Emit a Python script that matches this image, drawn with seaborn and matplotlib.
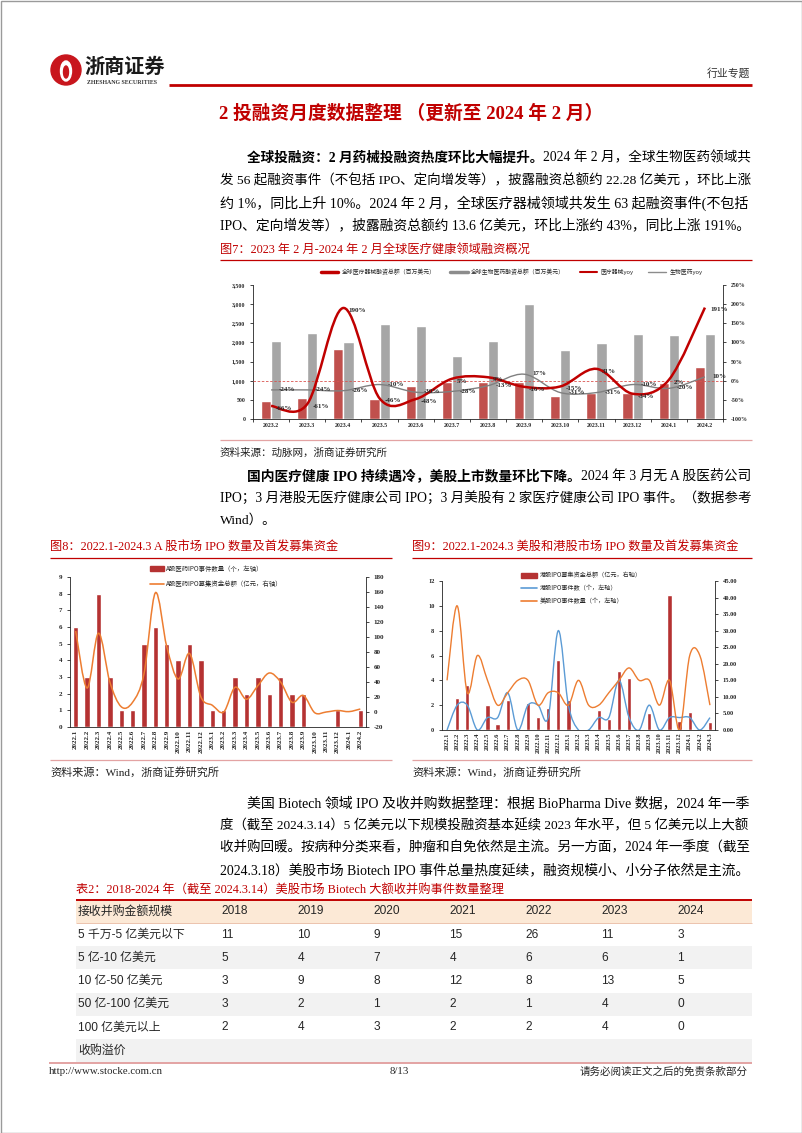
import numpy as np
import pandas as pd
import matplotlib
matplotlib.use("Agg")
import matplotlib.pyplot as plt
import seaborn as sns
from matplotlib.path import Path
from matplotlib.patches import PathPatch, Rectangle, Circle, Ellipse, Patch
from matplotlib.lines import Line2D

# ---- figure 7 data: global healthcare financing ----
months_7 = ["2023.2", "2023.3", "2023.4", "2023.5", "2023.6", "2023.7", "2023.8",
            "2023.9", "2023.10", "2023.11", "2023.12", "2024.1", "2024.2"]
device_amount = [470, 549, 1838, 523, 871, 976, 958, 976, 610, 680, 671, 951, 1360]
pharma_amount = [2030, 2256, 2021, 2474, 2439, 1646, 2047, 3014, 1812, 1986, 2213, 2206, 2228]
device_yoy = [-66, -61, 190, -46, -48, 5, 9, -16, -15, 31, -34, 2, 191]
pharma_yoy = [-24, -24, -26, -10, -30, -28, -13, 17, -31, -31, -10, -20, 10]

# ---- figure 8 data: A-share IPO ----
months_8 = ["2022.1", "2022.2", "2022.3", "2022.4", "2022.5", "2022.6", "2022.7", "2022.8",
            "2022.9", "2022.10", "2022.11", "2022.12", "2023.1", "2023.2", "2023.3", "2023.4",
            "2023.5", "2023.6", "2023.7", "2023.8", "2023.9", "2023.10", "2023.11", "2023.12",
            "2024.1", "2024.2"]
a_ipo_count = [6, 3, 8, 3, 1, 1, 5, 6, 5, 4, 5, 4, 1, 1, 3, 2, 3, 2, 3, 2, 2, 0, 0, 1, 0, 1]
a_ipo_funds = [108, 32, 105, 40, 7, 13, 51, 159, 87, 44, 78, 20, 9, 0, 33, 17, 35, 52, 40, 13,
               22, -1, 0, 2, 0.5, 4]

# ---- figure 9 data: US / HK IPO ----
months_9 = ["2022.1", "2022.2", "2022.3", "2022.4", "2022.5", "2022.6", "2022.7", "2022.8",
            "2022.9", "2022.10", "2022.11", "2022.12", "2023.1", "2023.2", "2023.3", "2023.4",
            "2023.5", "2023.6", "2023.7", "2023.8", "2023.9", "2023.10", "2023.11", "2023.12",
            "2024.1", "2024.2", "2024.3"]
hk_funds = [0, 9.6, 13.6, 0, 7.7, 1.8, 9.0, 0, 8.2, 4.0, 6.6, 21.1, 9.0, 0, 0, 6.0, 3.3, 17.9,
            15.7, 0, 5.2, 0, 40.8, 2.8, 5.5, 0, 2.3]
hk_count = [0, 2, 2, 0, 1, 1, 3, 0, 2, 2, 1, 8, 2, 0, 0, 1, 1, 4, 1, 0, 2, 0, 1, 1, 1, 0, 1]
us_count = [4, 10, 3, 6, 4, 2, 3, 4, 4, 2, 3, 3, 2, 4, 2, 2, 3, 4, 5, 4, 4, 2, 4, 0, 6, 6, 2]

# ---- table 2 data ----
tbl_header = "接收并购金额规模"
tbl_years = ["2018", "2019", "2020", "2021", "2022", "2023", "2024"]
tbl_rows = ["5 千万-5 亿美元以下", "5 亿-10 亿美元", "10 亿-50 亿美元", "50 亿-100 亿美元",
            "100 亿美元以上", "收购溢价"]
row_50m_500m = [11, 10, 9, 15, 26, 11, 3]
row_500m_1b = [5, 4, 7, 4, 6, 6, 1]
row_1b_5b = [3, 9, 8, 12, 8, 13, 5]
row_5b_10b = [3, 2, 1, 2, 1, 4, 0]
row_10b_up = [2, 4, 3, 2, 2, 4, 0]
row_premium = []

# ---- body text ----
para1 = [
    [("全球投融资：2 月药械投融资热度环比大幅提升。", True), ("2024 年 2 月，全球生物医药领域共", False)],
    [("发 56 起融资事件（不包括 IPO、定向增发等），披露融资总额约 22.28 亿美元 ，环比上涨", False)],
    [("约 1%，同比上升 10%。2024 年 2 月，全球医疗器械领域共发生 63 起融资事件(不包括", False)],
    [("IPO、定向增发等），披露融资总额约 13.6 亿美元，环比上涨约 43%，同比上涨 191%。", False)],
]
para2 = [
    [("国内医疗健康 IPO 持续遇冷，美股上市数量环比下降。", True), ("2024 年 3 月无 A 股医药公司", False)],
    [("IPO；3 月港股无医疗健康公司 IPO；3 月美股有 2 家医疗健康公司 IPO 事件。（数据参考", False)],
    [("Wind）。", False)],
]
para3 = [
    [("美国 Biotech 领域 IPO 及收并购数据整理：根据 BioPharma Dive 数据，2024 年一季", False)],
    [("度（截至 2024.3.14）5 亿美元以下规模投融资基本延续 2023 年水平，但 5 亿美元以上大额", False)],
    [("收并购回暖。按病种分类来看，肿瘤和自免依然是主流。另一方面，2024 年一季度（截至", False)],
    [("2024.3.18）美股市场 Biotech IPO 事件总量热度延续，融资规模小、小分子依然是主流。", False)],
]

RED = "#C00000"
BAR_RED = "#C0504D"
BAR_RED2 = "#B53232"
GRAY_BAR = "#A6A6A6"
ORANGE = "#ED7D31"
BLUE = "#5B9BD5"
PINK = "#E3A3A3"

sns.set_theme(style="ticks", rc={"axes.linewidth": 0.6, "xtick.major.width": 0.6,
                                 "ytick.major.width": 0.6, "xtick.major.size": 2,
                                 "ytick.major.size": 2, "axes.edgecolor": "#222222"})
BODY = ["Liberation Serif", "Noto Sans CJK SC", "DejaVu Sans"]
CJK = ["Noto Sans CJK SC", "DejaVu Sans"]
plt.rcParams["font.family"] = BODY
plt.rcParams["axes.unicode_minus"] = False

W, H = 802, 1133
fig = plt.figure(figsize=(W / 100, H / 100), dpi=100)
page = fig.add_axes([0, 0, 1, 1])
page.set_xlim(0, W)
page.set_ylim(H, 0)
page.axis("off")
renderer = fig.canvas.get_renderer()


def hline(x0, x1, y, color, lw=1.0):
    page.plot([x0, x1], [y, y], color=color, lw=lw, solid_capstyle="butt")


def put_line(x, y, parts, size, right=None, color="black", fam=BODY):
    def draw(sz):
        texts, cx = [], x
        for s, b in parts:
            t = page.text(cx, y, s, fontsize=sz, fontweight="bold" if b else "normal",
                          family=fam, color=color, va="center", ha="left")
            cx += t.get_window_extent(renderer).width
            texts.append(t)
        return texts, cx
    texts, end = draw(size)
    if right is not None:
        k = (right - x) / (end - x)
        if 0.88 < k < 1.12:
            for t in texts:
                t.remove()
            draw(size * k)


def smooth(ax, xs, ys, color, lw):
    pts = np.column_stack([xs, ys]).astype(float)
    verts, codes = [pts[0]], [Path.MOVETO]
    n = len(pts)
    for i in range(n - 1):
        p0 = pts[i - 1] if i > 0 else pts[i]
        p1, p2 = pts[i], pts[i + 1]
        p3 = pts[i + 2] if i + 2 < n else pts[i + 1]
        verts += [p1 + (p2 - p0) / 6, p2 - (p3 - p1) / 6, p2]
        codes += [Path.CURVE4] * 3
    ax.add_patch(PathPatch(Path(verts, codes), fc="none", ec=color, lw=lw, zorder=4))


def tick_font(ax, size):
    for lab in ax.get_xticklabels() + ax.get_yticklabels():
        lab.set_fontsize(size)
        lab.set_fontweight("bold")
        lab.set_fontfamily("Liberation Serif")


# ---- page frame, header ----
page.add_patch(Rectangle((0.5, 0.5), W - 1, H - 1, fill=False, ec="#9a9a9a", lw=1))
page.add_patch(Circle((66, 70), 15, color="#C8161D"))
page.add_patch(Ellipse((66, 71), 11, 20, color="white"))
page.add_patch(Ellipse((66, 72), 5, 12, color="#C8161D"))
page.text(84, 66, "浙商证券", fontsize=14.5, fontweight="bold", family=CJK, color="#1a1a1a",
          va="center", ha="left")
page.text(87, 83, "ZHESHANG SECURITIES", fontsize=4.2, fontweight="bold",
          family="Liberation Serif", color="#333333", va="center", ha="left")
hline(169, 752, 85, RED, 2)
page.text(750, 73, "行业专题", fontsize=7.8, family=CJK, color="#333333", va="center", ha="right")
page.text(411, 114, "2 投融资月度数据整理 （更新至 2024 年 2 月）", fontsize=13.5,
          fontweight="bold", color=RED, va="center", ha="center")

# ---- paragraphs ----
for i, parts in enumerate(para1):
    put_line(247 if i == 0 else 220, 158 + 22.5 * i, parts, 9.7, right=752)
page.text(220, 250, "图7：2023 年 2 月-2024 年 2 月全球医疗健康领域融资概况", fontsize=8.8,
          color=RED, va="center", ha="left")
hline(220, 752, 260, RED, 0.9)

# ---- figure 7 ----
ax1 = fig.add_axes([253 / W, 1 - 419 / H, 470 / W, 134 / H])
df1 = pd.DataFrame({"month": months_7 * 2, "amount": device_amount + pharma_amount,
                    "series": ["device"] * len(months_7) + ["pharma"] * len(months_7)})
sns.barplot(data=df1, x="month", y="amount", hue="series", palette=[BAR_RED, GRAY_BAR],
            saturation=1, width=0.56, gap=0, errorbar=None, legend=False, ax=ax1)
ax1b = ax1.twinx()
ax1.set_xlim(-0.5, len(months_7) - 0.5)
ax1.set_ylim(0, 3500)
ax1.set_yticks(range(0, 3501, 500))
ax1.set_yticklabels([f"{v:,}" for v in range(0, 3501, 500)])
ax1.set_xlabel("")
ax1.set_ylabel("")
ax1.axhline(1000, color="#D9534F", lw=0.6, ls=(0, (3, 2)), zorder=3)
ax1.spines[["top", "right"]].set_visible(False)
ax1.tick_params(axis="x", length=0, pad=3)
ax1.set_xticks(np.arange(-0.5, len(months_7), 1), minor=True)
ax1.tick_params(axis="x", which="minor", length=2, width=0.6)

ax1b.set_ylim(-100, 250)
ax1b.set_yticks(range(-100, 251, 50))
ax1b.set_yticklabels([f"{v}%" for v in range(-100, 251, 50)])
ax1b.spines[["top", "left", "bottom"]].set_visible(False)
xs7 = np.arange(len(months_7))
smooth(ax1b, xs7, pharma_yoy, "#808080", 1.0)
smooth(ax1b, xs7, device_yoy, RED, 1.8)
for i, v in enumerate(device_yoy):
    ax1b.text(i + 0.14, v - 6, f"{v}%", fontsize=5, fontweight="bold", va="center",
              ha="left", clip_on=False, zorder=5)
for i, v in enumerate(pharma_yoy):
    ax1b.text(i + 0.22, v + 1, f"{v}%", fontsize=5, fontweight="bold", va="center",
              ha="left", clip_on=False, zorder=5)
tick_font(ax1, 4.2)
tick_font(ax1b, 4.2)
h7 = [Line2D([], [], color=RED, lw=2.5), Line2D([], [], color="#8c8c8c", lw=2.5),
      Line2D([], [], color=RED, lw=1.5), Line2D([], [], color="#8c8c8c", lw=1.0)]
l7 = ["全球医疗器械融资总额（百万美元）", "全球生物医药融资总额（百万美元）", "医疗器械yoy", "生物医药yoy"]
ax1b.legend(h7, l7, loc="center", bbox_to_anchor=(0.55, 1.095), ncol=4, frameon=False,
            prop={"family": CJK, "size": 4.2}, handlelength=3, columnspacing=2.5,
            handletextpad=0.6)

hline(220, 752, 440, PINK, 0.9)
page.text(220, 453, "资料来源：动脉网，浙商证券研究所", fontsize=7.6, family=CJK, color="#222222",
          va="center", ha="left")

for i, parts in enumerate(para2):
    put_line(247 if i == 0 else 220, 476 + 22 * i, parts, 9.7,
             right=752 if i < len(para2) - 1 else None)

# ---- figure 8 ----
page.text(50, 548, "图8：2022.1-2024.3 A 股市场 IPO 数量及首发募集资金", fontsize=8.8,
          color=RED, va="center", ha="left")
hline(50, 392, 558, RED, 0.9)
ax2 = fig.add_axes([70 / W, 1 - 727 / H, 296 / W, 150 / H])
sns.barplot(x=months_8, y=a_ipo_count, color=BAR_RED2, saturation=1, width=0.47, ax=ax2)
ax2b = ax2.twinx()
ax2.set_xlim(-0.5, len(months_8) - 0.5)
ax2.set_ylim(0, 9)
ax2.set_yticks(range(0, 10))
ax2.spines[["top", "right"]].set_visible(False)
ax2.tick_params(axis="x", rotation=90, length=0, pad=2)
ax2b.set_ylim(-20, 180)
ax2b.set_yticks(range(-20, 181, 20))
ax2b.spines[["top", "left", "bottom"]].set_visible(False)
smooth(ax2b, np.arange(len(months_8)), a_ipo_funds, ORANGE, 1.1)
tick_font(ax2, 5)
tick_font(ax2b, 5)
h8 = [Patch(color=BAR_RED2), Line2D([], [], color=ORANGE, lw=1.2)]
l8 = ["A股医药IPO事件数量（个，左轴）", "A股医药IPO募集资金总额（亿元，右轴）"]
ax2b.legend(h8, l8, loc="upper left", bbox_to_anchor=(0.25, 1.12), frameon=False,
            prop={"family": CJK, "size": 4.6}, handlelength=2.2, labelspacing=1.2,
            handletextpad=0.3)
hline(50, 392, 760, PINK, 0.9)
page.text(50, 772, "资料来源：Wind，浙商证券研究所", fontsize=8, color="#222222",
          va="center", ha="left")

# ---- figure 9 (bars on the right axis, counts on the left axis) ----
page.text(412, 548, "图9：2022.1-2024.3 美股和港股市场 IPO 数量及首发募集资金", fontsize=8.8,
          color=RED, va="center", ha="left")
hline(412, 752, 558, RED, 0.9)
ax3 = fig.add_axes([442 / W, 1 - 730 / H, 273 / W, 149 / H])
sns.barplot(x=months_9, y=hk_funds, color=BAR_RED2, saturation=1, width=0.42, ax=ax3)
ax3b = ax3.twinx()
ax3.set_xlim(-0.5, len(months_9) - 0.5)
ax3.set_ylim(0, 45)
ax3.set_yticks(np.arange(0, 46, 5))
ax3.set_yticklabels([f"{v:.2f}" for v in np.arange(0, 46, 5)])
ax3.spines["top"].set_visible(False)
ax3.tick_params(axis="x", rotation=90, length=0, pad=2)
ax3b.set_ylim(0, 12)
ax3b.set_yticks(range(0, 13, 2))
ax3b.spines[["top", "left", "right", "bottom"]].set_visible(False)
xs9 = np.arange(len(months_9))
smooth(ax3b, xs9, hk_count, BLUE, 1.0)
smooth(ax3b, xs9, us_count, ORANGE, 1.0)
ax3.yaxis.tick_right()
ax3b.yaxis.tick_left()
tick_font(ax3, 4.6)
tick_font(ax3b, 4.6)
h9 = [Patch(color=BAR_RED2), Line2D([], [], color=BLUE, lw=1.2),
      Line2D([], [], color=ORANGE, lw=1.2)]
l9 = ["港股IPO募集资金总额（亿元，右轴）", "港股IPO事件数（个，左轴）", "美股IPO事件数量（个，左轴）"]
ax3b.legend(h9, l9, loc="upper left", bbox_to_anchor=(0.27, 1.1), frameon=False,
            prop={"family": CJK, "size": 4.4}, handlelength=2.6, labelspacing=0.8,
            handletextpad=0.4)
hline(412, 752, 760, PINK, 0.9)
page.text(412, 772, "资料来源：Wind，浙商证券研究所", fontsize=8, color="#222222",
          va="center", ha="left")

for i, parts in enumerate(para3):
    put_line(247 if i == 0 else 220, 803 + 22.5 * i, parts, 9.7, right=752)

# ---- table 2 ----
page.text(76, 891, "表2：2018-2024 年（截至 2024.3.14）美股市场 Biotech 大额收并购事件数量整理",
          fontsize=8.8, color=RED, va="center", ha="left")
row_values = [row_50m_500m, row_500m_1b, row_1b_5b, row_5b_10b, row_10b_up, row_premium]
top, hdr_h, row_h = 900, 23, 23.2
page.add_patch(Rectangle((76, top), 676, hdr_h, color="#FCE9D6", lw=0))
for r in range(len(tbl_rows)):
    y0 = top + hdr_h + r * row_h
    page.add_patch(Rectangle((76, y0), 676, row_h, color="#F2F2F2" if r % 2 else "white", lw=0))
hline(76, 752, top, RED, 1.4)
hline(76, 752, top + hdr_h, "#E9B9A0", 0.6)
col_x = [221.5 + 76 * k for k in range(len(tbl_years))]
page.text(78, top + hdr_h / 2, tbl_header, fontsize=8.6, family=CJK, va="center", ha="left")
for k, yr in enumerate(tbl_years):
    page.text(col_x[k], top + hdr_h / 2, yr, fontsize=8.6, family="Liberation Sans",
              va="center", ha="left")
for r, label in enumerate(tbl_rows):
    yc = top + hdr_h + r * row_h + row_h / 2
    page.text(78, yc, label, fontsize=8.6, family=["Liberation Sans", "Noto Sans CJK SC"],
              va="center", ha="left")
    for k, v in enumerate(row_values[r]):
        page.text(col_x[k], yc, str(v), fontsize=8.6, family="Liberation Sans",
                  va="center", ha="left")

# ---- footer ----
hline(49, 752, 1063, PINK, 1.4)
page.text(49, 1072, "http://www.stocke.com.cn", fontsize=7.8, va="center", ha="left")
page.text(399, 1072, "8/13", fontsize=7.8, va="center", ha="center")
page.text(748, 1072, "请务必阅读正文之后的免责条款部分", fontsize=7.6, family=CJK,
          va="center", ha="right")

fig.savefig("out.png", dpi=100)
